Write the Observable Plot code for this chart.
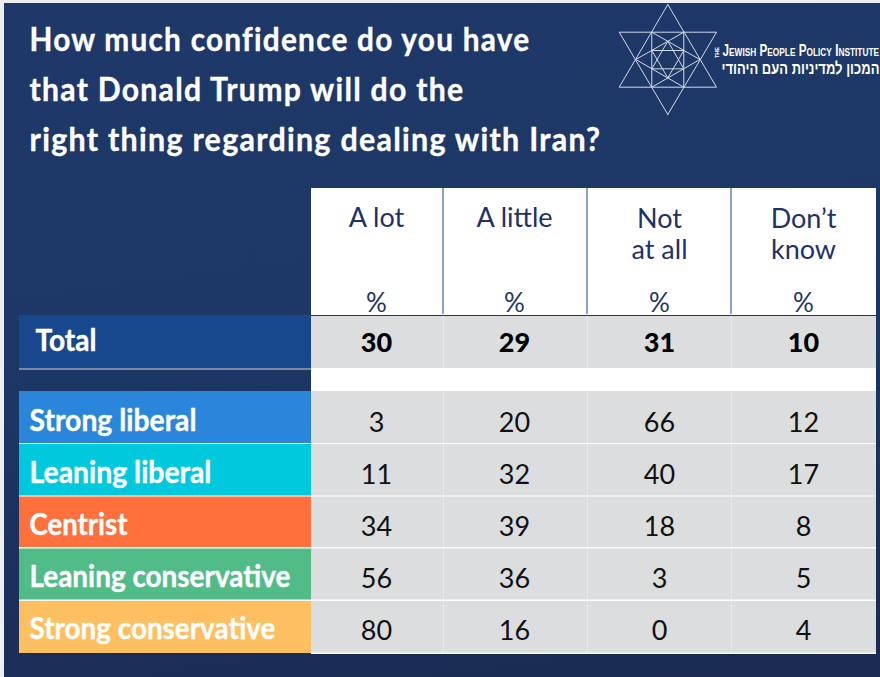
<!DOCTYPE html>
<html>
<head>
<meta charset="utf-8">
<script src="https://cdn.jsdelivr.net/npm/d3@7"></script>
<script src="https://cdn.jsdelivr.net/npm/@observablehq/plot@0.6"></script>
<style>
  html, body { margin: 0; padding: 0; background: #efedf5; }
  #chart { width: 880px; height: 677px; overflow: hidden; }
  #chart svg {
    display: block;
    background: linear-gradient(172deg, #1e3969 0%, #1d3766 45%, #1a2a51 100%) 4px 3px / 876px 674px no-repeat, #efedf5;
  }
  .title { letter-spacing: 1.4px; }
  .jppi { font-variant: small-caps; }
</style>
</head>
<body>
<div id="chart"></div>
<script>
// Survey question and answer columns
const titleLines = [
  "How much confidence do you have",
  "that Donald Trump will do the",
  "right thing regarding dealing with Iran?"
];
const answers = ["A lot", "A little", "Not\nat all", "Don\u2019t\nknow"];

// Percentages per answer, in row order
const groups = ["Strong liberal", "Leaning liberal", "Centrist", "Leaning conservative", "Strong conservative"];
const total = [30, 29, 31, 10];
const aLot = [3, 11, 34, 56, 80];
const aLittle = [20, 32, 39, 36, 16];
const notAtAll = [66, 40, 18, 3, 0];
const dontKnow = [12, 17, 8, 5, 4];
const groupColors = ["#2a86db", "#00c9de", "#ff703d", "#52bc89", "#fdbf5f"];

// Table grid, in pixels of the page
const colEdges = [311, 443, 587, 731, 876];
const colCenters = [376, 514, 659, 803];
const rowEdges = [[391, 443], [444, 495.5], [496.5, 547], [548.5, 599.5], [601, 653]];
const rowCenters = [421, 473, 525, 577, 629];
const valueColumns = [aLot, aLittle, notAtAll, dontKnow];

const columns = d3.range(4);
const headerCells = columns.map(i => ({x1: colEdges[i], x2: colEdges[i + 1]}));

const groupRows = groups.map((name, r) => ({
  name, color: groupColors[r], y1: rowEdges[r][0], y2: rowEdges[r][1], y: rowCenters[r]
}));
const valueCells = groupRows.flatMap((row, r) =>
  columns.map(c => ({x: colCenters[c], y: row.y, value: valueColumns[c][r]}))
);

// Two nested hexagrams and an inner star make up the institute's emblem
const emblem = [
  [[667.3, 4], [618.7, 86.7], [716, 86.7]],
  [[667.3, 114], [618.7, 31.7], [716, 31.7]],
  [[651.3, 31.7], [699.3, 59], [651.3, 86.7]],
  [[683.3, 31.7], [635.3, 59], [683.3, 86.7]],
  [[667.3, 40.7], [651.3, 68.3], [683.3, 68.3]],
  [[667.3, 77.3], [651.3, 50], [683.3, 50]]
].flatMap((tri, id) => [...tri, tri[0]].map(([x, y]) => ({x, y, id})));

const uiFont = "Lato, 'Noto Sans', sans-serif";
const narrowFont = "'Liberation Sans Narrow', 'Liberation Sans', sans-serif";
const navy = "#1d3268";

const plot = Plot.plot({
  width: 880,
  height: 677,
  margin: 0,
  x: {type: "linear", domain: [0, 880], range: [0, 880], axis: null},
  y: {type: "linear", domain: [0, 677], range: [0, 677], axis: null},
  style: {fontFamily: uiFont},
  marks: [
    // Title
    Plot.text(titleLines, {
      x: 29, y: (d, i) => 40 + i * 50, text: d => d,
      textAnchor: "start", fill: "white", stroke: "white", strokeWidth: 0.4,
      fontWeight: 700, fontSize: 33, className: "title"
    }),

    // Emblem and institute name
    Plot.line(emblem, {x: "x", y: "y", z: "id", stroke: "#d4d9e6", strokeWidth: 1, strokeLinejoin: "miter"}),
    Plot.text(["THE"], {
      x: 717, y: 52, text: d => d, rotate: -90, fill: "white",
      fontFamily: narrowFont, fontSize: 5.5, fontWeight: 700
    }),
    Plot.text(["Jewish People Policy Institute"], {
      x: 722, y: 50.5, text: d => d, textAnchor: "start", fill: "white",
      fontFamily: narrowFont, fontSize: 16, fontWeight: 700, className: "jppi"
    }),
    Plot.text(["\u05D4\u05DE\u05DB\u05D5\u05DF \u05DC\u05DE\u05D3\u05D9\u05E0\u05D9\u05D5\u05EA \u05D4\u05E2\u05DD \u05D4\u05D9\u05D4\u05D5\u05D3\u05D9"], {
      x: 800, y: 68.5, text: d => d, fill: "white",
      fontFamily: narrowFont, fontSize: 17, fontWeight: 700, className: "hebrew"
    }),

    // Header block with its column rules
    Plot.rect(headerCells, {x1: "x1", x2: "x2", y1: 188, y2: 315, fill: "white"}),
    Plot.rect([0], {x1: 311, x2: 876, y1: 368, y2: 391, fill: "white"}),
    Plot.ruleX(colEdges.slice(1, 4), {x: d => d - 0.5, y1: 188, y2: 314, stroke: "#4563a6", strokeWidth: 1.2}),
    Plot.text(answers, {
      x: (d, i) => colCenters[i], y: 218, text: d => d, lineAnchor: "middle",
      fill: navy, fontSize: 27, filter: d => !d.includes("\n")
    }),
    Plot.text(answers, {
      x: (d, i) => colCenters[i], y: 233, text: d => d, lineAnchor: "middle",
      lineHeight: 1.13, fill: navy, fontSize: 27, filter: d => d.includes("\n")
    }),
    Plot.text(columns, {x: i => colCenters[i], y: 303, text: () => "%", fill: navy, fontSize: 26}),

    // Total row
    Plot.rect([0], {x1: 19, x2: 311, y1: 315, y2: 368, fill: "#17478c"}),
    Plot.rect([0], {x1: 311, x2: 876, y1: 316, y2: 368, fill: "#dcddde"}),
    Plot.ruleY([368.5], {x1: 19, x2: 311, stroke: "#d7dbe4", strokeWidth: 1}),
    Plot.text(["Total"], {
      x: 35, y: 341, text: d => d, textAnchor: "start", fill: "white", stroke: "white", strokeWidth: 0.4,
      fontWeight: 700, fontSize: 30, className: "rowlabel"
    }),
    Plot.text(total, {
      x: (d, i) => colCenters[i], y: 343, text: d => String(d), fill: "black", fontWeight: 900, fontSize: 27
    }),

    // Respondent groups, separated by white hairlines
    Plot.rect([0], {x1: 19, x2: 876, y1: 391, y2: 654, fill: "white"}),
    Plot.rect([0], {x1: 19, x2: 311, y1: 653, y2: 654.5, fill: "#1a2c54"}),
    Plot.rect(groupRows, {x1: 19, x2: 311, y1: "y1", y2: "y2", fill: "color"}),
    Plot.rect(groupRows, {x1: 311, x2: 876, y1: "y1", y2: d => Math.min(d.y2, 652.5), fill: "#dcddde"}),
    Plot.ruleX(colEdges.slice(1, 4), {y1: 316, y2: 653, stroke: "white", strokeOpacity: 0.35, strokeWidth: 1}),
    Plot.text(groupRows, {
      x: 29, y: "y", text: "name", textAnchor: "start", fill: "white", stroke: "white", strokeWidth: 0.4,
      fontWeight: 700, fontSize: 31, className: "rowlabel"
    }),
    Plot.text(valueCells, {x: "x", y: "y", dy: 1.5, text: d => String(d.value), fill: "#111", fontSize: 27})
  ]
});

document.getElementById("chart").append(plot);

// The table's typeface runs narrower than Lato, so scale these labels horizontally to their set widths
function squeeze(selector, widths) {
  d3.select(plot).selectAll(`${selector} text`).each(function (d, i) {
    const k = widths[i] / this.getComputedTextLength();
    this.setAttribute("transform", `${this.getAttribute("transform") || ""} scale(${k},1)`);
  });
}
squeeze(".title", [501, 435, 572]);
squeeze(".rowlabel", [61, 167, 182, 98, 261, 246]);
squeeze(".jppi", [152]);
squeeze(".hebrew", [158]);
</script>
</body>
</html>
